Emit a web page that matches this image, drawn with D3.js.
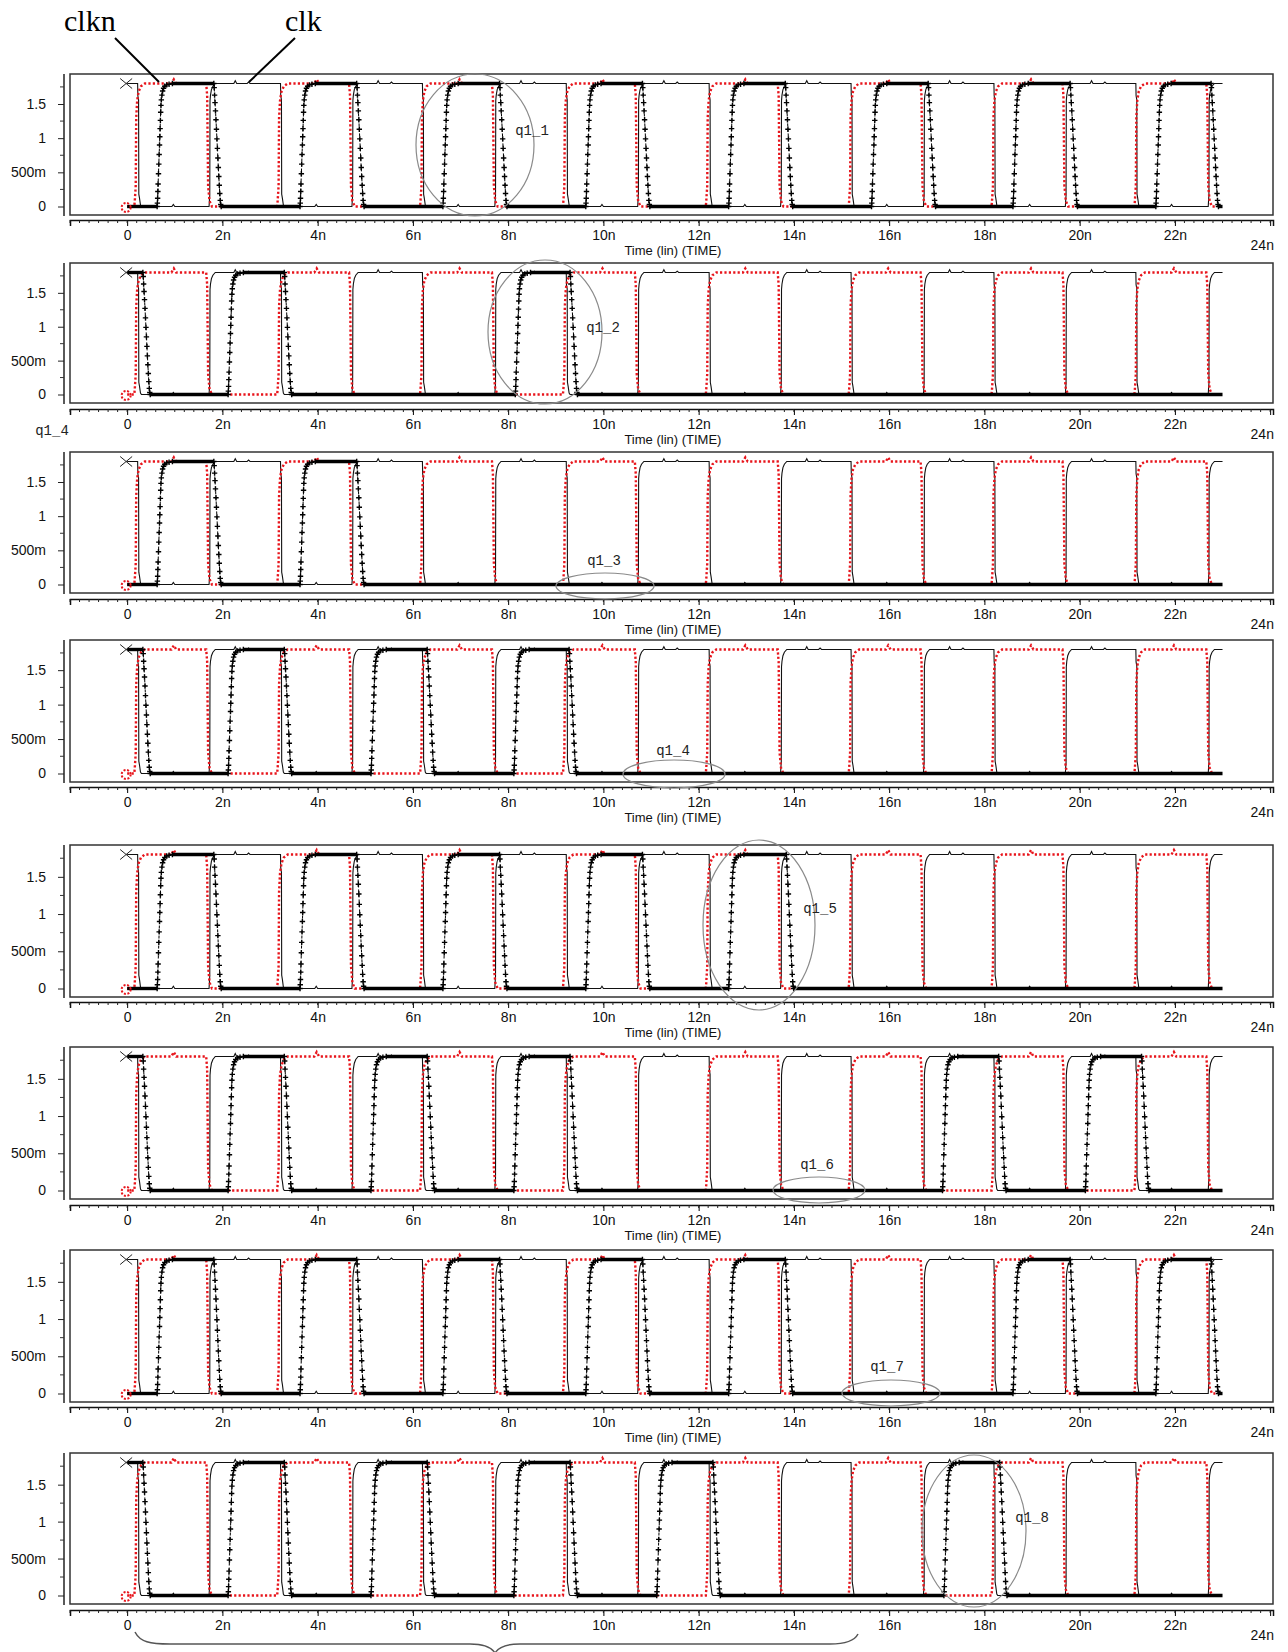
<!DOCTYPE html>
<html>
<head>
<meta charset="utf-8">
<script src="https://cdn.jsdelivr.net/npm/d3@7"></script>
<style>
  body { margin: 0; background: #fff; }
  svg { display: block; }
</style>
</head>
<body>
<div id="chart"></div>
<script>
// ---- data (times in ns, levels in V) ----
var tEnd = 23.0;
var clkRise = [1.72, 4.72, 7.72, 10.72, 13.72, 16.72, 19.7, 22.7];
var clkFall = [0.22, 3.22, 6.2, 9.22, 12.22, 15.2, 18.2, 21.18];
var clknRise = [0.15, 3.15, 6.15, 9.15, 12.15, 15.15, 18.15, 21.15];
var clknFall = [1.66, 4.66, 7.66, 10.66, 13.66, 16.66, 19.64, 22.66];
var clknEnd = 22.85;

// edge shapes: [dt, V]
var clkRiseShape = [[0, 0], [0.01, 0.12], [0.015, 0.16], [0.02, 1.55], [0.03, 1.63], [0.05, 1.71], [0.08, 1.76], [0.13, 1.8], [0.52, 1.8], [0.55, 1.84], [0.58, 1.8], [0.8, 1.8], [0.83, 1.82], [0.86, 1.8]];
var clkFallShape = [[0, 1.8], [0.005, 1.62], [0.02, 1.56], [0.025, 0.18], [0.04, 0.12], [0.06, 0.02], [0.08, 0], [0.72, 0], [0.75, 0.03], [0.78, 0]];
var clknRiseShape = [[0, 0], [0.01, 0.08], [0.03, 0.3], [0.04, 1.3], [0.06, 1.55], [0.09, 1.68], [0.14, 1.76], [0.22, 1.8], [0.78, 1.8], [0.83, 1.86], [0.88, 1.8]];
var clknFallShape = [[0, 1.8], [0.02, 1.62], [0.04, 0.3], [0.07, 0.08], [0.12, 0]];
var qRiseShape = [[0, 0], [0.005, 0.05], [0.01, 0.12], [0.015, 0.22], [0.02, 0.33], [0.028, 0.48], [0.035, 0.62], [0.042, 0.76], [0.05, 0.9], [0.056, 1.02], [0.062, 1.14], [0.068, 1.26], [0.074, 1.38], [0.08, 1.48], [0.088, 1.56], [0.1, 1.63], [0.115, 1.69], [0.135, 1.73], [0.16, 1.76], [0.2, 1.78], [0.25, 1.79], [0.32, 1.8]];
var qFallShape = [[0, 1.8], [0.008, 1.74], [0.016, 1.63], [0.025, 1.52], [0.035, 1.4], [0.045, 1.27], [0.055, 1.13], [0.065, 0.99], [0.075, 0.85], [0.085, 0.71], [0.095, 0.57], [0.105, 0.44], [0.115, 0.31], [0.125, 0.19], [0.135, 0.09], [0.145, 0.03], [0.155, 0]];

var qNames = ["q1_1", "q1_2", "q1_3", "q1_4", "q1_5", "q1_6", "q1_7", "q1_8"];
var qInit = [0, 1.8, 0, 1.8, 0, 1.8, 0, 1.8];
var qRise = [
  [0.63, 3.63, 6.63, 9.63, 12.63, 15.63, 18.6, 21.6],
  [2.12, 8.15],
  [0.63, 3.63],
  [2.12, 5.12, 8.12],
  [0.63, 3.63, 6.63, 9.63, 12.63],
  [2.12, 5.12, 8.12, 17.12, 20.12],
  [0.63, 3.63, 6.63, 9.63, 12.63, 18.6, 21.6],
  [2.12, 5.12, 8.12, 11.12, 17.15]
];
var qFall = [
  [1.82, 4.82, 7.82, 10.82, 13.82, 16.82, 19.8, 22.76],
  [0.33, 3.3, 9.3],
  [1.82, 4.82],
  [0.33, 3.3, 6.3, 9.28],
  [1.82, 4.82, 7.82, 10.82, 13.84],
  [0.33, 3.3, 6.3, 9.3, 18.3, 21.3],
  [1.82, 4.82, 7.82, 10.82, 13.82, 19.8, 22.76],
  [0.33, 3.3, 6.3, 9.3, 12.3, 18.32]
];

var yMajor = [0, 0.5, 1, 1.5];
var yLabels = ["0", "500m", "1", "1.5"];
var yMinor = [0.25, 0.75, 1.25, 1.75];
var xMajor = [0, 2, 4, 6, 8, 10, 12, 14, 16, 18, 20, 22, 24];
var xLabels = ["0", "2n", "4n", "6n", "8n", "10n", "12n", "14n", "16n", "18n", "20n", "22n", "24n"];

// ---- layout ----
var panels = [
  { top: 74, bottom: 215, ruler: 220 },
  { top: 263, bottom: 403, ruler: 409 },
  { top: 452, bottom: 593, ruler: 599 },
  { top: 640, bottom: 782, ruler: 787 },
  { top: 845, bottom: 997, ruler: 1002 },
  { top: 1047, bottom: 1199, ruler: 1205 },
  { top: 1250, bottom: 1402, ruler: 1407 },
  { top: 1453, bottom: 1604, ruler: 1610 }
];
var notes = [
  { cx: 475, cy: 145, rx: 59, ry: 71, lx: 532, ly: 130 },
  { cx: 545, cy: 332, rx: 57, ry: 72, lx: 603, ly: 327 },
  { cx: 605, cy: 586, rx: 49, ry: 13, lx: 604, ly: 560 },
  { cx: 674, cy: 774, rx: 51, ry: 14, lx: 673, ly: 750 },
  { cx: 759, cy: 925, rx: 56, ry: 85, lx: 820, ly: 908 },
  { cx: 819, cy: 1190, rx: 46, ry: 13, lx: 817, ly: 1164 },
  { cx: 891, cy: 1393, rx: 49, ry: 13, lx: 887, ly: 1366 },
  { cx: 974, cy: 1531, rx: 52, ry: 76, lx: 1032, ly: 1517 }
];

var svg = d3.select("#chart").append("svg")
  .attr("width", 1288).attr("height", 1652)
  .style("font-family", "'Liberation Sans', Arial, sans-serif");
svg.append("rect").attr("width", 1288).attr("height", 1652).attr("fill", "#fff");

var x = d3.scaleLinear().domain([-1.2, 24.06]).range([70, 1273]);

function place(shape, t0) {
  return shape.map(function (p) { return [t0 + p[0], p[1]]; });
}

// returns list of segments {edge, pts}
function buildWave(init, rises, falls, riseShape, fallShape, end) {
  var events = rises.map(function (t) { return { t: t, shape: riseShape }; })
    .concat(falls.map(function (t) { return { t: t, shape: fallShape }; }))
    .sort(function (a, b) { return a.t - b.t; });
  var segs = [], level = init, cur = 0;
  events.forEach(function (e) {
    segs.push({ edge: false, pts: [[cur, level], [e.t, level]] });
    var pts = place(e.shape, e.t).filter(function (p) { return p[0] <= end; });
    segs.push({ edge: true, pts: pts });
    var last = e.shape[e.shape.length - 1];
    cur = Math.min(e.t + last[0], end);
    level = last[1];
  });
  segs.push({ edge: false, pts: [[cur, level], [end, level]] });
  return segs;
}

function flatten(segs) {
  var out = [];
  segs.forEach(function (s) { out = out.concat(s.pts); });
  return out;
}

var clkPts = flatten(buildWave(1.8, clkRise, clkFall, clkRiseShape, clkFallShape, tEnd));
var clknPts = flatten(buildWave(0, clknRise, clknFall, clknRiseShape, clknFallShape, clknEnd));

var plus = "M-2.7,0H2.7M0,-2.7V2.7";

panels.forEach(function (p, i) {
  var y = d3.scaleLinear().domain([0, 1.8]).range([p.bottom - 8.5, p.top + 9.5]);
  var line = d3.line().x(function (d) { return x(d[0]); }).y(function (d) { return y(d[1]); });
  var g = svg.append("g");

  g.append("clipPath").attr("id", "clip" + i)
    .append("rect").attr("x", 70).attr("y", p.top).attr("width", 1203).attr("height", p.bottom - p.top);

  // frame
  g.append("rect")
    .attr("x", 70).attr("y", p.top).attr("width", 1203).attr("height", p.bottom - p.top)
    .attr("fill", "none").attr("stroke", "#333").attr("stroke-width", 1.5);

  // y axis
  g.append("line").attr("x1", 64).attr("x2", 64).attr("y1", p.top).attr("y2", p.bottom + 1)
    .attr("stroke", "#222").attr("stroke-width", 1.5);
  var ya = g.append("g").attr("transform", "translate(64,0)")
    .call(d3.axisLeft(y).tickValues(yMajor).tickSize(6).tickPadding(12)
      .tickFormat(function (d, k) { return yLabels[k]; }));
  ya.select(".domain").remove();
  ya.selectAll("text").attr("font-size", 14).attr("fill", "#111").attr("font-family", null);
  ya.selectAll("line").attr("stroke", "#222");
  g.selectAll(".yminor").data(yMinor).enter().append("line")
    .attr("x1", 60).attr("x2", 64)
    .attr("y1", function (d) { return y(d); }).attr("y2", function (d) { return y(d); })
    .attr("stroke", "#333");

  // time ruler
  var xa = g.append("g").attr("transform", "translate(0," + p.ruler + ")")
    .call(d3.axisBottom(x).tickValues(xMajor).tickSize(6).tickSizeOuter(6).tickPadding(4)
      .tickFormat(function (d, k) { return xLabels[k]; }));
  xa.select(".domain").attr("stroke", "#111").attr("stroke-width", 1.5);
  xa.selectAll("text").attr("font-size", 14).attr("fill", "#111").attr("font-family", null);
  xa.selectAll(".tick").filter(function (d) { return d === 24; })
    .select("text").attr("y", 20).attr("dx", "-0.6em");
  g.selectAll(".xminor").data(d3.range(-1.2, 24.01, 0.2)).enter().append("line")
    .attr("x1", function (d) { return x(d); }).attr("x2", function (d) { return x(d); })
    .attr("y1", p.ruler).attr("y2", p.ruler + 3)
    .attr("stroke", "#222");
  if (i < 7) {
    g.append("text").attr("x", x(11.46)).attr("y", p.ruler + 35)
      .attr("text-anchor", "middle").attr("font-size", 13).attr("fill", "#111")
      .text("Time (lin) (TIME)");
  }

  var plot = g.append("g").attr("clip-path", "url(#clip" + i + ")");

  // clk
  plot.append("path").datum(clkPts).attr("d", line)
    .attr("fill", "none").attr("stroke", "#111").attr("stroke-width", 1.1);
  // clkn
  plot.append("path").datum(clknPts).attr("d", line)
    .attr("fill", "none").attr("stroke", "#e8141b").attr("stroke-width", 2.4)
    .attr("stroke-dasharray", "2.2,2.2");

  // q
  var qSegs = buildWave(qInit[i], qRise[i], qFall[i], qRiseShape, qFallShape, tEnd);
  qSegs.forEach(function (s) {
    if (!s.edge) {
      plot.append("path").datum(s.pts).attr("d", line)
        .attr("fill", "none").attr("stroke", "#000").attr("stroke-width", 3.4);
    } else {
      plot.append("path").datum(s.pts).attr("d", line)
        .attr("fill", "none").attr("stroke", "#000").attr("stroke-width", 1)
        .attr("stroke-dasharray", "3,2");
      plot.selectAll(null).data(s.pts).enter().append("path")
        .attr("d", plus)
        .attr("transform", function (d) { return "translate(" + x(d[0]) + "," + y(d[1]) + ")"; })
        .attr("stroke", "#000").attr("stroke-width", 1.4);
    }
  });

  // start markers
  var sx = x(0), sy = y(1.8);
  g.append("path")
    .attr("d", "M" + (sx - 7) + "," + (sy - 5) + "L" + (sx + 5) + "," + (sy + 5) +
      "M" + (sx - 7) + "," + (sy + 5) + "L" + (sx + 5) + "," + (sy - 5))
    .attr("stroke", "#222").attr("stroke-width", 1);
  g.append("circle").attr("cx", sx - 1).attr("cy", y(0) + 1).attr("r", 4.5)
    .attr("fill", "none").attr("stroke", "#e8141b").attr("stroke-width", 2)
    .attr("stroke-dasharray", "2,1.6");

  // annotation
  var n = notes[i];
  g.append("ellipse").attr("cx", n.cx).attr("cy", n.cy).attr("rx", n.rx).attr("ry", n.ry)
    .attr("fill", "none").attr("stroke", "#8a8a8a").attr("stroke-width", 1.2);
  g.append("text").attr("x", n.lx).attr("y", n.ly).attr("dy", "0.35em")
    .attr("text-anchor", "middle").attr("font-family", "'Liberation Mono', monospace")
    .attr("font-size", 14).attr("fill", "#222").text(qNames[i]);
});

// stray label left of panel 3
svg.append("text").attr("x", 52).attr("y", 430).attr("dy", "0.35em")
  .attr("text-anchor", "middle").attr("font-family", "'Liberation Mono', monospace")
  .attr("font-size", 14).attr("fill", "#222").text("q1_4");

// signal names with leader lines
svg.append("text").attr("x", 64).attr("y", 31)
  .attr("font-family", "'Liberation Serif', 'Times New Roman', serif")
  .attr("font-size", 30).attr("fill", "#000").text("clkn");
svg.append("text").attr("x", 285).attr("y", 31)
  .attr("font-family", "'Liberation Serif', 'Times New Roman', serif")
  .attr("font-size", 30).attr("fill", "#000").text("clk");
svg.append("line").attr("x1", 115).attr("y1", 38).attr("x2", 159).attr("y2", 82)
  .attr("stroke", "#000").attr("stroke-width", 2);
svg.append("line").attr("x1", 295).attr("y1", 38).attr("x2", 249).attr("y2", 82)
  .attr("stroke", "#000").attr("stroke-width", 2);

// brace under the last panel
svg.append("path")
  .attr("d", "M135,1632 C140,1642 150,1644 170,1644 L470,1644 C485,1644 492,1648 495,1653" +
    " C498,1648 505,1644 520,1644 L830,1644 C848,1644 855,1640 858,1634")
  .attr("fill", "none").attr("stroke", "#555").attr("stroke-width", 1.5);
</script>
</body>
</html>
